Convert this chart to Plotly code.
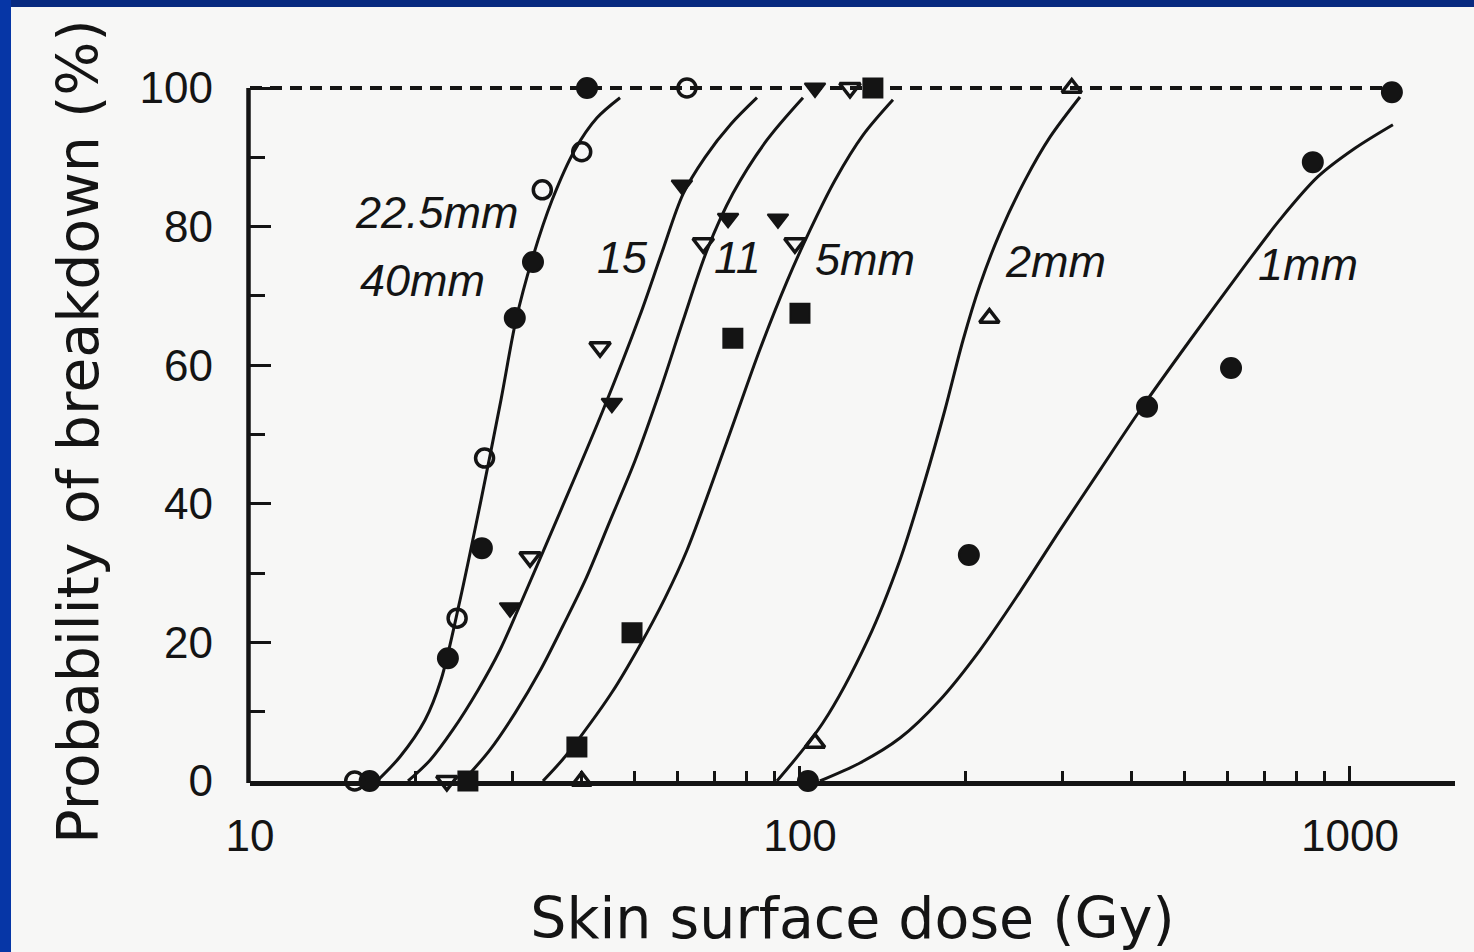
import plotly.graph_objects as go

# ---------------- data ----------------
# 40 mm : filled circles
d40_x = [16.5, 22.9, 26.4, 30.3, 32.7, 41.0]
d40_y = [0, 17.7, 33.6, 66.8, 74.9, 100]
# 22.5 mm : open circles
d225_x = [15.5, 23.8, 26.7, 34.0, 40.1, 62.3]
d225_y = [0, 23.5, 46.6, 85.3, 90.8, 100]
# 15 mm : filled down-triangles
d15_x = [29.7, 45.5, 61.0, 74.0, 91.2, 106.5]
d15_y = [25.0, 54.5, 86.0, 81.2, 81.1, 100]
# 11 mm : open down-triangles
d11_x = [22.8, 32.3, 43.3, 66.7, 97.9, 123.3]
d11_y = [0, 32.3, 62.6, 77.6, 77.6, 100]
# 5 mm : filled squares
d5_x = [24.9, 39.3, 49.5, 75.5, 100.0, 135.7]
d5_y = [0, 4.9, 21.4, 63.9, 67.5, 100]
# 2 mm : open up-triangles
d2_x = [40.1, 106.5, 221.0, 312.0]
d2_y = [0, 5.5, 66.8, 100]
# 1 mm : filled circles
d1_x = [103.4, 202.8, 427.6, 607.8, 856.0, 1192.0]
d1_y = [0, 32.6, 54.0, 59.6, 89.3, 99.4]

# fitted curves
fitA_x = [17.02, 18.74, 20.81, 22.25, 24.09, 26.30, 28.60, 30.45, 32.56, 35.41, 38.98, 42.75, 47.08]
fitA_y = [0, 3.5, 8.8, 14.6, 26.1, 40.5, 55.0, 66.5, 75.2, 83.8, 91.1, 95.7, 98.6]
fitB_x = [19.38, 21.25, 23.39, 25.97, 28.48, 30.97, 37.08, 43.84, 51.18, 56.12, 61.28, 67.19, 74.91, 83.53]
fitB_y = [0, 3.0, 7.4, 13.1, 18.9, 25.4, 39.8, 53.5, 67.2, 76.3, 84.7, 90.0, 94.8, 98.6]
fitC_x = [24.40, 27.31, 30.33, 33.68, 37.08, 40.66, 45.13, 50.12, 55.66, 61.28, 67.77, 75.54, 87.10, 101.27]
fitC_y = [0, 4.5, 9.8, 15.9, 22.4, 28.9, 37.5, 46.2, 56.3, 66.4, 76.6, 84.8, 92.5, 98.6]
fitD_x = [34.10, 36.93, 39.81, 45.52, 51.18, 56.83, 62.31, 73.66, 84.58, 94.71, 104.3, 115.8, 130.2, 147.6]
fitD_y = [0, 3.0, 6.3, 12.8, 19.6, 26.4, 33.3, 49.0, 62.3, 72.1, 79.5, 86.7, 93.2, 98.3]
fitE_x = [90.8, 110.1, 132.9, 152.0, 168.8, 183.4, 197.9, 212.5, 231.0, 256.6, 284.8, 322.9]
fitE_y = [0, 8.4, 20.4, 31.9, 43.4, 53.5, 63.6, 71.6, 79.1, 86.7, 92.9, 98.7]
fitF_x = [108.7, 128.5, 152.0, 179.7, 212.5, 251.2, 297.0, 351.3, 415.2, 511.9, 639.0, 746.0, 874.5, 1021.0, 1197.0]
fitF_y = [0, 2.6, 6.2, 11.7, 18.9, 27.3, 36.2, 44.9, 53.5, 63.6, 74.0, 81.0, 87.2, 91.3, 94.7]

curve_labels = ["22.5mm", "40mm", "15", "11", "5mm", "2mm", "1mm"]
x_major = [10, 100, 1000]
x_minor = [20, 30, 40, 50, 60, 70, 80, 90, 200, 300, 400, 500, 600, 700, 800, 900]
ref_x = [10, 1192]
ref_y = [100, 100]

# ---------------- figure ----------------
INK = "#141414"
fig = go.Figure()

# dashed 100 % reference line
fig.add_trace(go.Scatter(x=ref_x, y=ref_y, mode="lines",
                         line=dict(color=INK, width=4, dash="12px,8px"),
                         showlegend=False, hoverinfo="skip", cliponaxis=False))

for fx, fy in [(fitA_x, fitA_y), (fitB_x, fitB_y), (fitC_x, fitC_y),
               (fitD_x, fitD_y), (fitE_x, fitE_y), (fitF_x, fitF_y)]:
    fig.add_trace(go.Scatter(x=fx, y=fy, mode="lines",
                             line=dict(color=INK, width=3, shape="spline", smoothing=0.9),
                             showlegend=False, hoverinfo="skip", cliponaxis=False))

marker_specs = [
    (d40_x, d40_y, "circle", 20, 2),
    (d225_x, d225_y, "circle-open", 18, 3.5),
    (d15_x, d15_y, "triangle-down", 18, 2),
    (d11_x, d11_y, "triangle-down-open", 18, 3.5),
    (d5_x, d5_y, "square", 19, 2),
    (d2_x, d2_y, "triangle-up-open", 17, 3.5),
    (d1_x, d1_y, "circle", 20, 2),
]
for mx, my, sym, sz, lw in marker_specs:
    fig.add_trace(go.Scatter(
        x=mx, y=my, mode="markers",
        marker=dict(symbol=sym, size=sz, color=INK,
                    line=dict(color=INK, width=lw)),
        showlegend=False, cliponaxis=False))

# curve labels (italic)
label_pos = [(1.340, 82.1), (1.313, 72.2), (1.678, 75.6), (1.886, 75.6),
             (2.118, 75.3), (2.464, 74.9), (2.924, 74.5)]
for txt, (lx, ly) in zip(curve_labels, label_pos):
    fig.add_annotation(x=lx, y=ly, xref="x", yref="y", text=txt, showarrow=False,
                       font=dict(family="Liberation Sans, Arial", size=45,
                                 color=INK, style="italic"),
                       xanchor="center", yanchor="middle")

# geometry
W, H = 1474, 952
L, R, T, B = 250, 19, 82, 171
Y_TOP = 100.866          # a little head-room so the dashed 100 % line is not clipped
pw, ph = W - L - R, H - T - B
def px2paper_x(p):
    return (p - L) / pw
def px2paper_y(p):
    return (H - B - p) / ph

# y axis line drawn only up to 100 %
fig.add_shape(type="line", xref="paper", yref="paper",
              x0=-1.5 / pw, x1=-1.5 / pw, y0=-2.0 / ph, y1=100 / Y_TOP,
              line=dict(color=INK, width=4.5), layer="above")

# blue frame of the slide (top and left)
fig.add_shape(type="rect", xref="paper", yref="paper",
              x0=px2paper_x(0), x1=px2paper_x(W), y0=px2paper_y(0), y1=px2paper_y(7),
              fillcolor="#082a80", line=dict(width=0), layer="above")
fig.add_shape(type="rect", xref="paper", yref="paper",
              x0=px2paper_x(0), x1=px2paper_x(11), y0=px2paper_y(0), y1=px2paper_y(H),
              fillcolor="#0636a6", line=dict(width=0), layer="above")

TICKFONT = dict(family="Liberation Sans, Arial", size=44, color=INK)
TITLEFONT = dict(family="DejaVu Sans", size=57, color=INK)

fig.update_layout(
    width=W, height=H,
    margin=dict(l=L, r=R, t=T, b=B, pad=0),
    paper_bgcolor="#f7f7f6", plot_bgcolor="#f7f7f6",
    showlegend=False,
    xaxis=dict(
        type="log", range=[1.0, 3.191],
        showline=True, linecolor=INK, linewidth=4.5,
        showgrid=False, zeroline=False,
        tickmode="array", tickvals=x_major, ticktext=[str(v) for v in x_major],
        ticks="inside", ticklen=15, tickwidth=3, tickcolor=INK,
        minor=dict(tickmode="array", tickvals=x_minor, ticks="inside",
                   ticklen=10, tickwidth=3, tickcolor=INK, showgrid=False),
        tickfont=TICKFONT, ticklabelstandoff=12,
        title=dict(text="Skin surface dose (Gy)", font=TITLEFONT, standoff=41),
    ),
    yaxis=dict(
        range=[0, Y_TOP],
        showline=False,
        showgrid=False, zeroline=False,
        tickmode="linear", tick0=0, dtick=20,
        ticks="inside", ticklen=21, tickwidth=3, tickcolor=INK,
        minor=dict(tickmode="linear", tick0=0, dtick=10, ticks="inside",
                   ticklen=15, tickwidth=3, tickcolor=INK, showgrid=False),
        tickfont=TICKFONT, ticklabelstandoff=36,
        title=dict(text="Probability of breakdown (%)", font=TITLEFONT, standoff=22),
    ),
)

fig.write_html("out.html")
